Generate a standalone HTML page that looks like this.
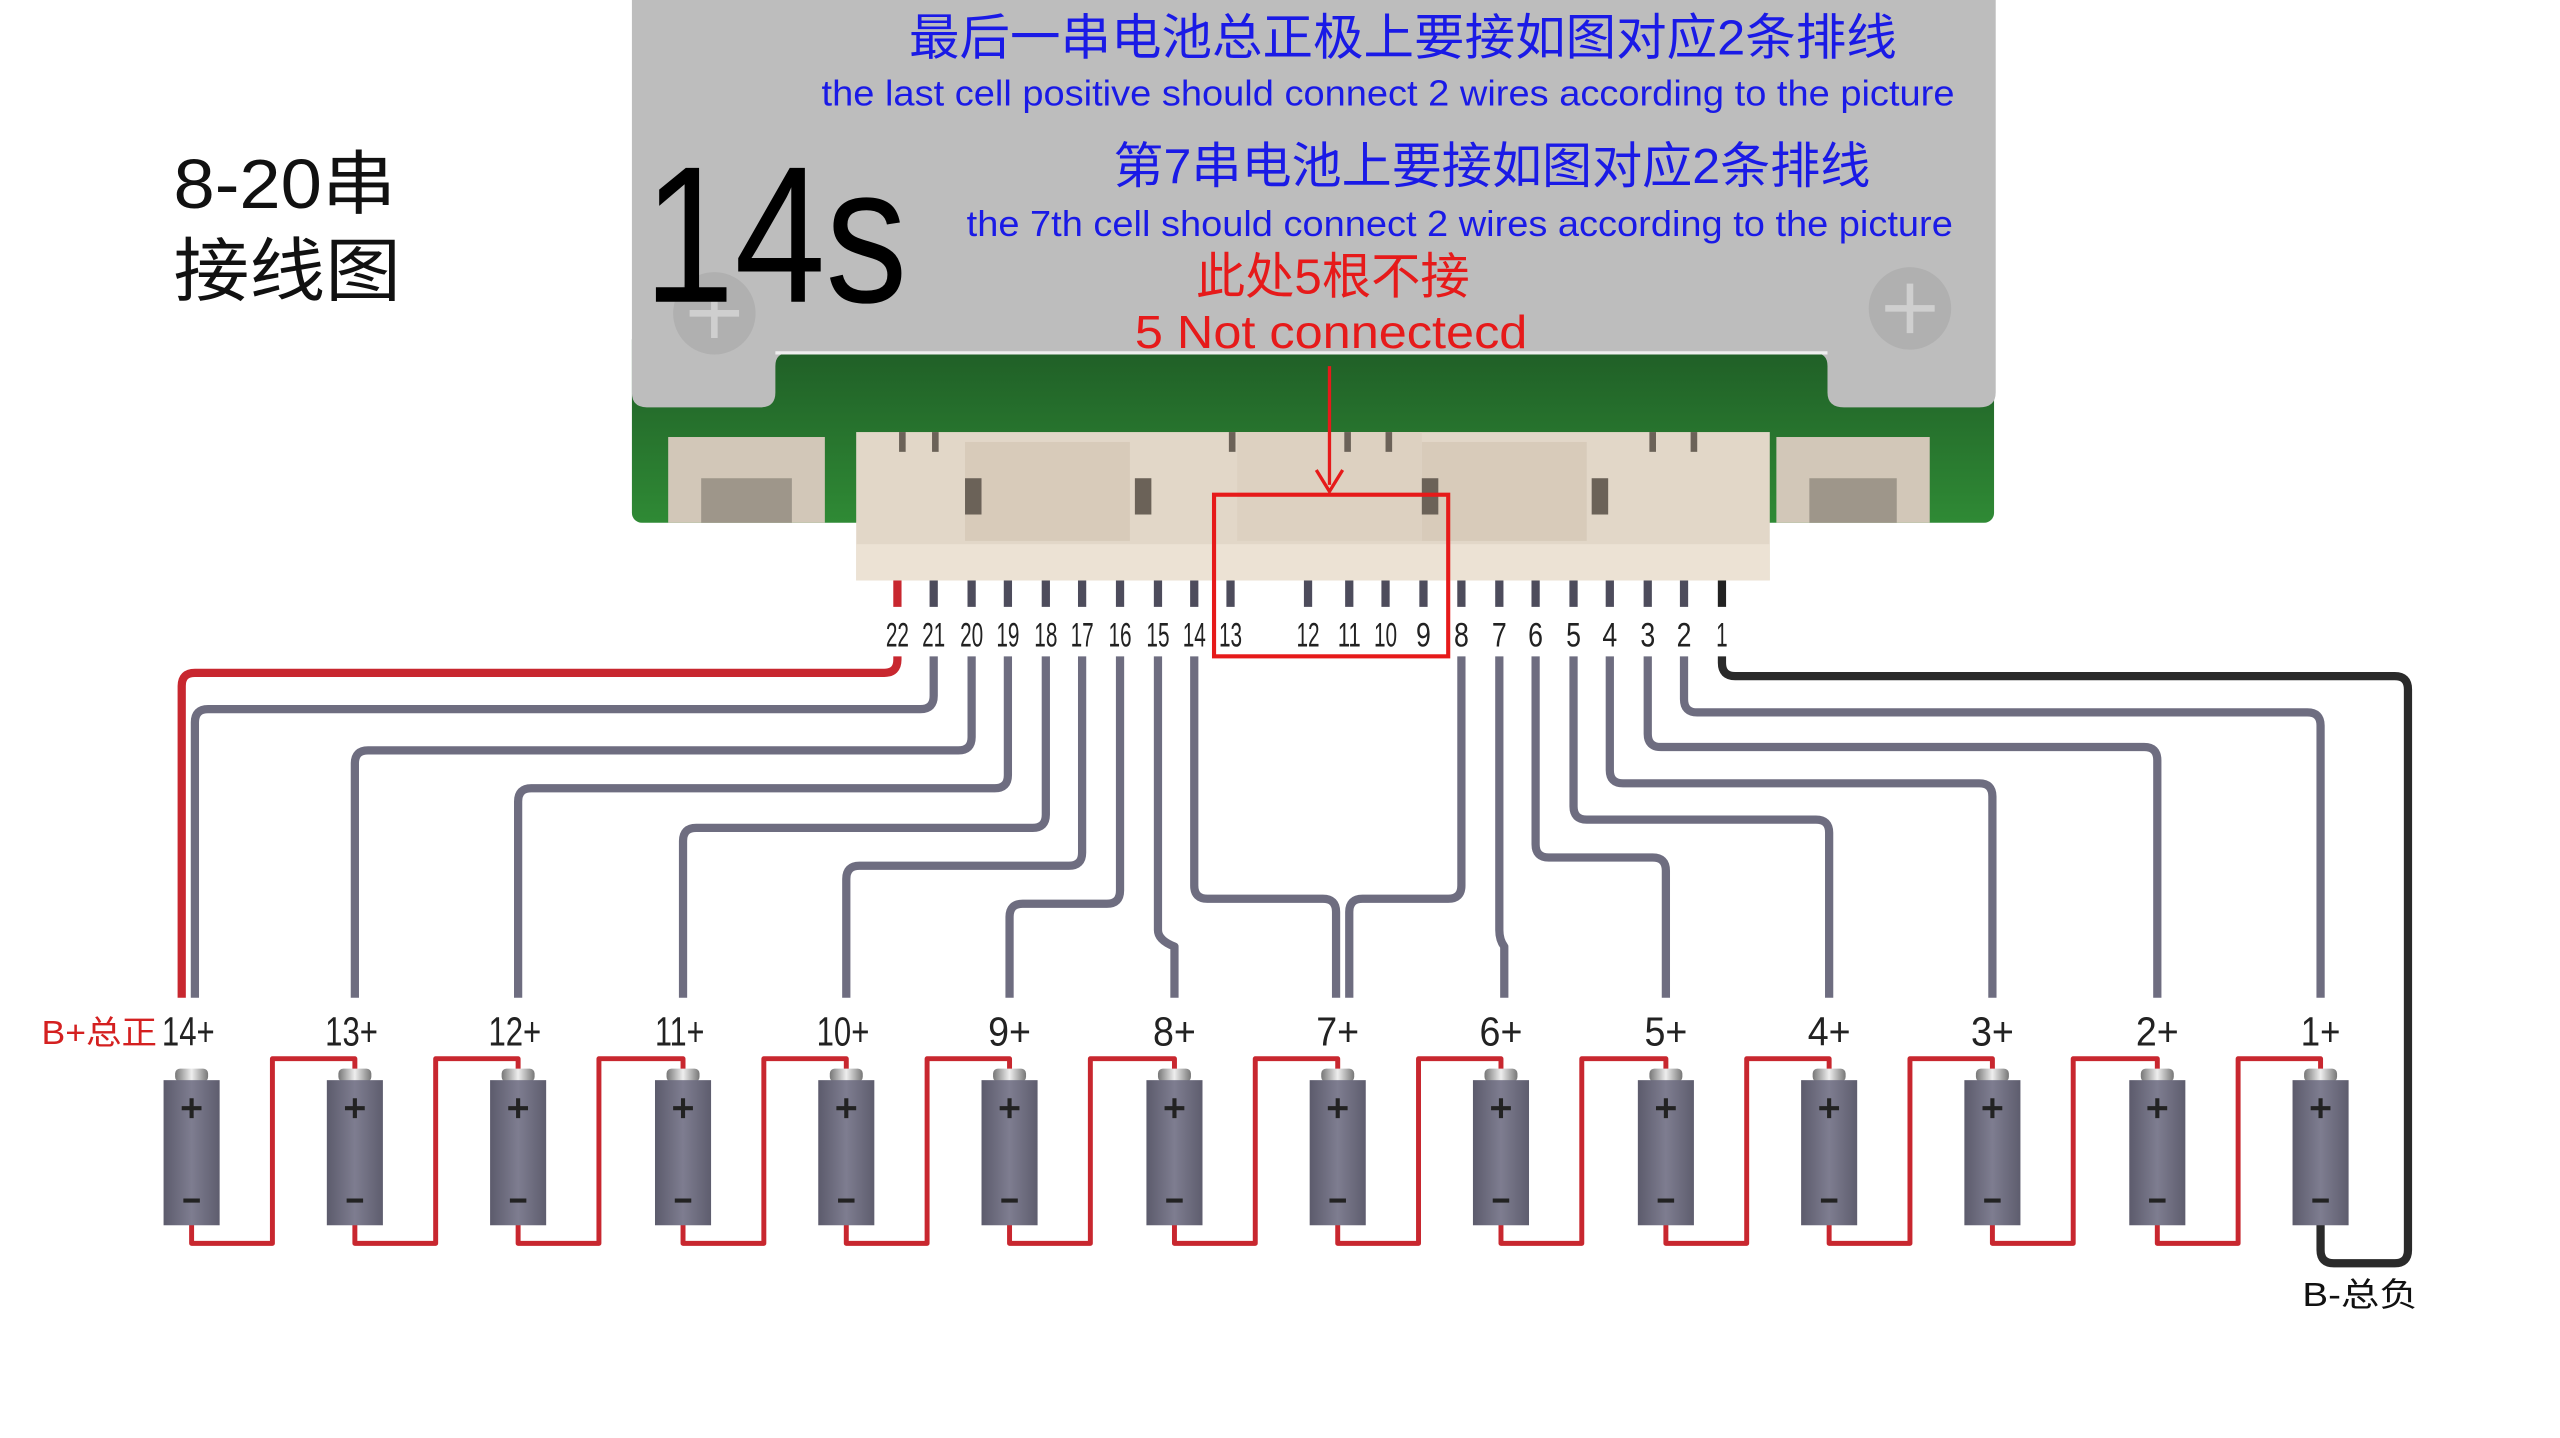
<!DOCTYPE html>
<html><head><meta charset="utf-8"><style>
html,body{margin:0;padding:0;background:#fff;}
svg{display:block;}
</style></head><body>
<svg width="2560" height="1438" viewBox="0 0 1552 872" xmlns="http://www.w3.org/2000/svg">
<defs>
<linearGradient id="bat" x1="0" x2="1">
<stop offset="0" stop-color="#5c5b6c"/><stop offset="0.5" stop-color="#7e7d90"/><stop offset="1" stop-color="#5e5d6e"/>
</linearGradient>
<linearGradient id="pcb" x1="0" x2="0" y1="0" y2="1">
<stop offset="0" stop-color="#1e5a25"/><stop offset="1" stop-color="#2f8a35"/>
</linearGradient>
<linearGradient id="cap" x1="0" x2="1">
<stop offset="0" stop-color="#777"/><stop offset="0.5" stop-color="#eee"/><stop offset="1" stop-color="#777"/>
</linearGradient>
</defs>
<rect width="1552" height="872" fill="#fff"/>
<rect x="383" y="200" width="826" height="117" rx="6" fill="url(#pcb)"/>
<path d="M383 0 H1210 V238 Q1210 247 1200 247 H1118 Q1108 247 1108 238 V222 Q1108 214 1100 214 H478 Q470 214 470 222 V238 Q470 247 461 247 H392 Q383 247 383 238 Z" fill="#bdbdbd"/>
<path d="M470 214 H1108" stroke="#eee" stroke-width="2"/>
<circle cx="433" cy="190" r="25" fill="#b0b0b0"/>
<path d="M433 175 V205 M418 190 H448" stroke="#cfcfcf" stroke-width="4"/>
<circle cx="1158" cy="187" r="25" fill="#b0b0b0"/>
<path d="M1158 172 V202 M1143 187 H1173" stroke="#cfcfcf" stroke-width="4"/>
<rect x="405" y="265" width="95" height="52" fill="#d2c7b8"/>
<rect x="425" y="290" width="55" height="27" fill="#9e968a"/>
<rect x="1077" y="265" width="93" height="52" fill="#d2c7b8"/>
<rect x="1097" y="290" width="53" height="27" fill="#9e968a"/>
<rect x="519" y="262" width="554" height="90" fill="#e2d7c8"/>
<rect x="585" y="268" width="100" height="60" fill="#d8cbba"/>
<rect x="862" y="268" width="100" height="60" fill="#d8cbba"/>
<rect x="750" y="262" width="112" height="66" fill="#ddd1c1"/>
<rect x="519" y="330" width="554" height="22" fill="#ece2d4"/>
<g fill="#6b6258">
<rect x="585" y="290" width="10" height="22"/><rect x="688" y="290" width="10" height="22"/>
<rect x="862" y="290" width="10" height="22"/><rect x="965" y="290" width="10" height="22"/>
<rect x="545" y="262" width="4" height="12"/><rect x="565" y="262" width="4" height="12"/>
<rect x="745" y="262" width="4" height="12"/><rect x="815" y="262" width="4" height="12"/>
<rect x="840" y="262" width="4" height="12"/><rect x="1000" y="262" width="4" height="12"/>
<rect x="1025" y="262" width="4" height="12"/>
</g>
<g font-family="'Liberation Sans','Noto Sans CJK SC',sans-serif" lengthAdjust="spacingAndGlyphs">
<text x="551" y="33" font-size="30" fill="#1a1ae6" textLength="599" lengthAdjust="spacingAndGlyphs">最后一串电池总正极上要接如图对应2条排线</text>
<text x="498" y="64" font-size="22" fill="#1a1ae6" textLength="687" lengthAdjust="spacingAndGlyphs">the last cell positive should connect 2 wires according to the picture</text>
<text x="675" y="111" font-size="30" fill="#1a1ae6" textLength="459" lengthAdjust="spacingAndGlyphs">第7串电池上要接如图对应2条排线</text>
<text x="586" y="143" font-size="22" fill="#1a1ae6" textLength="598" lengthAdjust="spacingAndGlyphs">the 7th cell should connect 2 wires according to the picture</text>
<text x="725" y="178" font-size="30" fill="#e61a1a" textLength="166" lengthAdjust="spacingAndGlyphs">此处5根不接</text>
<text x="688" y="211" font-size="28" fill="#e61a1a" textLength="238" lengthAdjust="spacingAndGlyphs">5 Not connectecd</text>
</g>
<text x="390" y="183" font-family="'Liberation Sans',sans-serif" font-size="118" fill="#000" textLength="160" lengthAdjust="spacingAndGlyphs">14s</text>
<g font-family="'Liberation Sans','Noto Sans CJK SC',sans-serif" font-size="42" fill="#111">
<text x="105" y="126" textLength="135" lengthAdjust="spacingAndGlyphs">8-20串</text>
<text x="105" y="179" textLength="138" lengthAdjust="spacingAndGlyphs">接线图</text>
</g>
<path d="M806 222 V294" stroke="#e61a1a" stroke-width="2" fill="none"/>
<path d="M798 285 L806 298 L814 285" stroke="#e61a1a" stroke-width="2" fill="none"/>
<g stroke="#4d4c5c" stroke-width="5">
<path d="M566 352V368M589 352V368M611 352V368M634 352V368M656 352V368M679 352V368M702 352V368M724 352V368M746 352V368M793 352V368M818 352V368M840 352V368M863 352V368M886 352V368M909 352V368M931 352V368M954 352V368M976 352V368M999 352V368M1021 352V368"/>
</g>
<path d="M544 352V368" stroke="#c8272f" stroke-width="5"/>
<path d="M1044 352V368" stroke="#222" stroke-width="5"/>
<g font-family="'Liberation Sans',sans-serif" font-size="21" fill="#222" text-anchor="middle">
<text x="544" y="392" textLength="14" lengthAdjust="spacingAndGlyphs">22</text>
<text x="566" y="392" textLength="14" lengthAdjust="spacingAndGlyphs">21</text>
<text x="589" y="392" textLength="14" lengthAdjust="spacingAndGlyphs">20</text>
<text x="611" y="392" textLength="14" lengthAdjust="spacingAndGlyphs">19</text>
<text x="634" y="392" textLength="14" lengthAdjust="spacingAndGlyphs">18</text>
<text x="656" y="392" textLength="14" lengthAdjust="spacingAndGlyphs">17</text>
<text x="679" y="392" textLength="14" lengthAdjust="spacingAndGlyphs">16</text>
<text x="702" y="392" textLength="14" lengthAdjust="spacingAndGlyphs">15</text>
<text x="724" y="392" textLength="14" lengthAdjust="spacingAndGlyphs">14</text>
<text x="746" y="392" textLength="14" lengthAdjust="spacingAndGlyphs">13</text>
<text x="793" y="392" textLength="14" lengthAdjust="spacingAndGlyphs">12</text>
<text x="818" y="392" textLength="14" lengthAdjust="spacingAndGlyphs">11</text>
<text x="840" y="392" textLength="14" lengthAdjust="spacingAndGlyphs">10</text>
<text x="863" y="392" textLength="9" lengthAdjust="spacingAndGlyphs">9</text><text x="886" y="392" textLength="9" lengthAdjust="spacingAndGlyphs">8</text><text x="909" y="392" textLength="9" lengthAdjust="spacingAndGlyphs">7</text>
<text x="931" y="392" textLength="9" lengthAdjust="spacingAndGlyphs">6</text><text x="954" y="392" textLength="9" lengthAdjust="spacingAndGlyphs">5</text><text x="976" y="392" textLength="9" lengthAdjust="spacingAndGlyphs">4</text>
<text x="999" y="392" textLength="9" lengthAdjust="spacingAndGlyphs">3</text><text x="1021" y="392" textLength="9" lengthAdjust="spacingAndGlyphs">2</text><text x="1044" y="392" textLength="7" lengthAdjust="spacingAndGlyphs">1</text>
</g>
<rect x="736" y="300" width="142" height="98" fill="none" stroke="#e61a1a" stroke-width="2.5"/>
<g fill="none" stroke="#6e6d80" stroke-width="5" stroke-linejoin="round" stroke-linecap="butt">
<path d="M566 398V422Q566 430 558 430H126Q118 430 118 438V605"/>
<path d="M589 398V447Q589 455 581 455H223Q215 455 215 463V605"/>
<path d="M611 398V470Q611 478 603 478H322Q314 478 314 486V605"/>
<path d="M634 398V494Q634 502 626 502H422Q414 502 414 510V605"/>
<path d="M656 398V517Q656 525 648 525H521Q513 525 513 533V605"/>
<path d="M679 398V540Q679 548 671 548H620Q612 548 612 556V605"/>
<path d="M702 398V564Q702 570 712 574V605"/>
<path d="M724 398V537Q724 545 732 545H802Q810 545 810 553V605"/>
<path d="M886 398V537Q886 545 878 545H826Q818 545 818 553V605"/>
<path d="M909 398V564Q909 570 912 574V605"/>
<path d="M931 398V512Q931 520 939 520H1002Q1010 520 1010 528V605"/>
<path d="M954 398V489Q954 497 962 497H1101Q1109 497 1109 505V605"/>
<path d="M976 398V467Q976 475 984 475H1200Q1208 475 1208 483V605"/>
<path d="M999 398V445Q999 453 1007 453H1300Q1308 453 1308 461V605"/>
<path d="M1021 398V424Q1021 432 1029 432H1399Q1407 432 1407 440V605"/>
</g>
<path d="M544 398V400Q544 408 536 408H118Q110 408 110 416V605" fill="none" stroke="#c8272f" stroke-width="5"/>
<path d="M1044 398V402Q1044 410 1052 410H1452Q1460 410 1460 418V758Q1460 766 1452 766H1415Q1407 766 1407 758V742" fill="none" stroke="#2a2a2a" stroke-width="5"/>
<g fill="none" stroke="#c8272f" stroke-width="3" stroke-linejoin="round">
<path d="M116 742V754H165V642H215V652"/>
<path d="M215 742V754H264V642H314V652"/>
<path d="M314 742V754H363V642H414V652"/>
<path d="M414 742V754H463V642H513V652"/>
<path d="M513 742V754H562V642H612V652"/>
<path d="M612 742V754H661V642H712V652"/>
<path d="M712 742V754H761V642H811V652"/>
<path d="M811 742V754H860V642H910V652"/>
<path d="M910 742V754H959V642H1010V652"/>
<path d="M1010 742V754H1059V642H1109V652"/>
<path d="M1109 742V754H1158V642H1208V652"/>
<path d="M1208 742V754H1257V642H1308V652"/>
<path d="M1308 742V754H1357V642H1407V652"/>
</g>
<g>
<g transform="translate(116 0)"><rect x="-10" y="648" width="20" height="8" rx="3" fill="url(#cap)"/><rect x="-17" y="655" width="34" height="88" fill="url(#bat)"/><path d="M0 666V678M-6 672H6M-5 728H5" stroke="#222" stroke-width="2.5"/></g>
<g transform="translate(215 0)"><rect x="-10" y="648" width="20" height="8" rx="3" fill="url(#cap)"/><rect x="-17" y="655" width="34" height="88" fill="url(#bat)"/><path d="M0 666V678M-6 672H6M-5 728H5" stroke="#222" stroke-width="2.5"/></g>
<g transform="translate(314 0)"><rect x="-10" y="648" width="20" height="8" rx="3" fill="url(#cap)"/><rect x="-17" y="655" width="34" height="88" fill="url(#bat)"/><path d="M0 666V678M-6 672H6M-5 728H5" stroke="#222" stroke-width="2.5"/></g>
<g transform="translate(414 0)"><rect x="-10" y="648" width="20" height="8" rx="3" fill="url(#cap)"/><rect x="-17" y="655" width="34" height="88" fill="url(#bat)"/><path d="M0 666V678M-6 672H6M-5 728H5" stroke="#222" stroke-width="2.5"/></g>
<g transform="translate(513 0)"><rect x="-10" y="648" width="20" height="8" rx="3" fill="url(#cap)"/><rect x="-17" y="655" width="34" height="88" fill="url(#bat)"/><path d="M0 666V678M-6 672H6M-5 728H5" stroke="#222" stroke-width="2.5"/></g>
<g transform="translate(612 0)"><rect x="-10" y="648" width="20" height="8" rx="3" fill="url(#cap)"/><rect x="-17" y="655" width="34" height="88" fill="url(#bat)"/><path d="M0 666V678M-6 672H6M-5 728H5" stroke="#222" stroke-width="2.5"/></g>
<g transform="translate(712 0)"><rect x="-10" y="648" width="20" height="8" rx="3" fill="url(#cap)"/><rect x="-17" y="655" width="34" height="88" fill="url(#bat)"/><path d="M0 666V678M-6 672H6M-5 728H5" stroke="#222" stroke-width="2.5"/></g>
<g transform="translate(811 0)"><rect x="-10" y="648" width="20" height="8" rx="3" fill="url(#cap)"/><rect x="-17" y="655" width="34" height="88" fill="url(#bat)"/><path d="M0 666V678M-6 672H6M-5 728H5" stroke="#222" stroke-width="2.5"/></g>
<g transform="translate(910 0)"><rect x="-10" y="648" width="20" height="8" rx="3" fill="url(#cap)"/><rect x="-17" y="655" width="34" height="88" fill="url(#bat)"/><path d="M0 666V678M-6 672H6M-5 728H5" stroke="#222" stroke-width="2.5"/></g>
<g transform="translate(1010 0)"><rect x="-10" y="648" width="20" height="8" rx="3" fill="url(#cap)"/><rect x="-17" y="655" width="34" height="88" fill="url(#bat)"/><path d="M0 666V678M-6 672H6M-5 728H5" stroke="#222" stroke-width="2.5"/></g>
<g transform="translate(1109 0)"><rect x="-10" y="648" width="20" height="8" rx="3" fill="url(#cap)"/><rect x="-17" y="655" width="34" height="88" fill="url(#bat)"/><path d="M0 666V678M-6 672H6M-5 728H5" stroke="#222" stroke-width="2.5"/></g>
<g transform="translate(1208 0)"><rect x="-10" y="648" width="20" height="8" rx="3" fill="url(#cap)"/><rect x="-17" y="655" width="34" height="88" fill="url(#bat)"/><path d="M0 666V678M-6 672H6M-5 728H5" stroke="#222" stroke-width="2.5"/></g>
<g transform="translate(1308 0)"><rect x="-10" y="648" width="20" height="8" rx="3" fill="url(#cap)"/><rect x="-17" y="655" width="34" height="88" fill="url(#bat)"/><path d="M0 666V678M-6 672H6M-5 728H5" stroke="#222" stroke-width="2.5"/></g>
<g transform="translate(1407 0)"><rect x="-10" y="648" width="20" height="8" rx="3" fill="url(#cap)"/><rect x="-17" y="655" width="34" height="88" fill="url(#bat)"/><path d="M0 666V678M-6 672H6M-5 728H5" stroke="#222" stroke-width="2.5"/></g>
</g>
<g font-family="'Liberation Sans',sans-serif" font-size="25" fill="#222" text-anchor="middle">
<text x="114" y="634" textLength="32" lengthAdjust="spacingAndGlyphs">14+</text>
<text x="213" y="634" textLength="32" lengthAdjust="spacingAndGlyphs">13+</text>
<text x="312" y="634" textLength="32" lengthAdjust="spacingAndGlyphs">12+</text>
<text x="412" y="634" textLength="30" lengthAdjust="spacingAndGlyphs">11+</text>
<text x="511" y="634" textLength="32" lengthAdjust="spacingAndGlyphs">10+</text>
<text x="612" y="634" textLength="26" lengthAdjust="spacingAndGlyphs">9+</text><text x="712" y="634" textLength="26" lengthAdjust="spacingAndGlyphs">8+</text><text x="811" y="634" textLength="26" lengthAdjust="spacingAndGlyphs">7+</text>
<text x="910" y="634" textLength="26" lengthAdjust="spacingAndGlyphs">6+</text><text x="1010" y="634" textLength="26" lengthAdjust="spacingAndGlyphs">5+</text><text x="1109" y="634" textLength="26" lengthAdjust="spacingAndGlyphs">4+</text>
<text x="1208" y="634" textLength="26" lengthAdjust="spacingAndGlyphs">3+</text><text x="1308" y="634" textLength="26" lengthAdjust="spacingAndGlyphs">2+</text><text x="1407" y="634" textLength="24" lengthAdjust="spacingAndGlyphs">1+</text>
</g>
<text x="25" y="633" font-family="'Liberation Sans','Noto Sans CJK SC',sans-serif" font-size="20" fill="#d42020" textLength="70" lengthAdjust="spacingAndGlyphs">B+总正</text>
<text x="1396" y="792" font-family="'Liberation Sans','Noto Sans CJK SC',sans-serif" font-size="20" fill="#111" textLength="70" lengthAdjust="spacingAndGlyphs">B-总负</text>
</svg>
</body></html>
